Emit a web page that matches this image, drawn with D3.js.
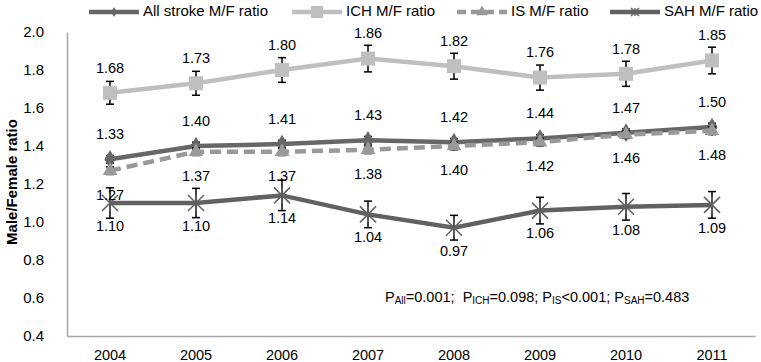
<!DOCTYPE html>
<html><head><meta charset="utf-8">
<script src="https://cdn.jsdelivr.net/npm/d3@7"></script>
<style>body{margin:0;background:#fff}svg{display:block;font-family:"Liberation Sans",Arial,sans-serif}</style>
</head><body><svg id="c" width="761" height="362"></svg>
<script>
const years = ["2004","2005","2006","2007","2008","2009","2010","2011"];
const allStroke = [1.33,1.40,1.41,1.43,1.42,1.44,1.47,1.50];
const allErr    = [0.02,0.02,0.02,0.02,0.02,0.02,0.02,0.02];
const ich       = [1.68,1.73,1.80,1.86,1.82,1.76,1.78,1.85];
const ichErr    = [0.06,0.063,0.065,0.07,0.068,0.066,0.066,0.07];
const is        = [1.27,1.37,1.37,1.38,1.40,1.42,1.46,1.48];
const isErr     = [0.02,0.02,0.02,0.02,0.02,0.02,0.02,0.02];
const sah       = [1.10,1.10,1.14,1.04,0.97,1.06,1.08,1.09];
const sahErr    = [0.08,0.077,0.08,0.07,0.065,0.07,0.07,0.07];
const yTicks    = [0.4,0.6,0.8,1.0,1.2,1.4,1.6,1.8,2.0];
const seriesNames = ["All stroke M/F ratio","ICH M/F ratio","IS M/F ratio","SAH M/F ratio"];

const svg = d3.select("#c");
const x = d3.scaleBand().domain(years).range([67,755]);
const y = d3.scaleLinear().domain([0.4,2.0]).range([336,32]);
const cx = d => x(d)+x.bandwidth()/2;

// axes
const yAxis = d3.axisLeft(y).tickValues(yTicks).tickFormat(d3.format(".1f")).tickSize(0).tickPadding(23);
const gy = svg.append("g").attr("transform","translate(67,0)").call(yAxis);
gy.select(".domain").attr("stroke","#a6a6a6").attr("stroke-width",1.5);
gy.selectAll("text").attr("font-size",15).attr("fill","#000").attr("font-family","'Liberation Sans',Arial,sans-serif");
const xAxis = d3.axisBottom(x).tickSize(0).tickPadding(14);
const gx = svg.append("g").attr("transform","translate(0,336)").call(xAxis);
gx.select(".domain").attr("stroke","#a6a6a6").attr("stroke-width",1.5);
gx.selectAll("text").attr("font-size",14.5).attr("fill","#000").attr("font-family","'Liberation Sans',Arial,sans-serif");

svg.append("text").attr("transform","translate(13,182) rotate(-90)").attr("text-anchor","middle")
  .attr("dominant-baseline","middle").attr("font-weight","bold").attr("font-size",15).text("Male/Female ratio");

const series = [
  {name:seriesNames[0], v:allStroke, e:allErr, color:"#676767", dash:null, marker:"diamond", lab:-24},
  {name:seriesNames[1], v:ich, e:ichErr, color:"#bfbfbf", dash:null, marker:"square", lab:-24},
  {name:seriesNames[2], v:is, e:isErr, color:"#999999", dash:"11,6", marker:"triangle", lab:25},
  {name:seriesNames[3], v:sah, e:sahErr, color:"#616161", dash:null, marker:"star", lab:24}
];

const line = d3.line().x(d=>cx(d.year)).y(d=>y(d.val));

function marker(g, type, color, px, py, s){
  if(type==="square"){
    g.append("rect").attr("x",px-s/2).attr("y",py-s/2).attr("width",s).attr("height",s).attr("fill",color);
  } else if(type==="diamond"){
    g.append("path").attr("d",d3.symbol().type(d3.symbolDiamond).size(s*s*0.6)()).attr("transform",`translate(${px},${py})`).attr("fill",color);
    g.append("path").attr("d",d3.symbol().type(d3.symbolCross).size(s*s*0.35)()).attr("transform",`translate(${px},${py})`).attr("fill",color);
  } else if(type==="triangle"){
    g.append("path").attr("d",d3.symbol().type(d3.symbolTriangle).size(s*s*0.55)()).attr("transform",`translate(${px},${py})`).attr("fill",color);
  } else if(type==="star"){
    const r=s/2;
    g.append("path").attr("d",`M${px-r},${py-r}L${px+r},${py+r}M${px-r},${py+r}L${px+r},${py-r}M${px},${py-r}L${px},${py+r}`)
      .attr("stroke",color).attr("stroke-width",1.5).attr("fill","none");
  }
}

series.forEach(s=>{
  const data = years.map((yr,i)=>({year:yr,val:s.v[i],err:s.e[i]}));
  const g = svg.append("g");
  g.append("path").datum(data).attr("d",line).attr("fill","none").attr("stroke",s.color)
    .attr("stroke-width",4.5).attr("stroke-dasharray",s.dash);
  const eb = g.append("g").attr("stroke","#000").attr("stroke-width",1.5);
  data.forEach(d=>{
    const px=cx(d.year), t=y(d.val+d.err), b=y(d.val-d.err);
    eb.append("line").attr("x1",px).attr("x2",px).attr("y1",t).attr("y2",b);
    eb.append("line").attr("x1",px-4).attr("x2",px+4).attr("y1",t).attr("y2",t);
    eb.append("line").attr("x1",px-4).attr("x2",px+4).attr("y1",b).attr("y2",b);
  });
  const size = s.marker==="square"?14:(s.marker==="star"?16:13);
  data.forEach(d=>marker(g,s.marker,s.color,cx(d.year),y(d.val),size));
  s.data=data;
});
// labels
series.forEach(s=>{
  svg.append("g").selectAll("text").data(s.data).join("text")
    .attr("x",d=>cx(d.year)).attr("y",d=>y(d.val)+s.lab).attr("text-anchor","middle")
    .attr("dominant-baseline","middle").attr("font-size",14.5).attr("fill","#000")
    .text(d=>d3.format(".2f")(d.val));
});

// legend
const legX = [89,292,457,610];
const leg = svg.append("g");
series.forEach((s,i)=>{
  const x0=legX[i], x1=x0+50, ly=12;
  leg.append("line").attr("x1",x0).attr("x2",x1).attr("y1",ly).attr("y2",ly).attr("stroke",s.color)
    .attr("stroke-width",4.5).attr("stroke-dasharray",s.dash?"9,5":null);
  const sz = s.marker==="square"?12:(s.marker==="star"?8:(s.marker==="diamond"?7:10));
  marker(leg,s.marker,s.color,(x0+x1)/2,ly,sz);
  leg.append("text").attr("x",x1+4).attr("y",ly).attr("dominant-baseline","middle").attr("font-size",15).text(s.name);
});

// p-value annotation
const pt = svg.append("text").attr("x",385).attr("y",298).attr("font-size",14.5).attr("dominant-baseline","middle");
const parts = [["P","All","=0.001;  "],["P","ICH","=0.098; "],["P","IS","<0.001; "],["P","SAH","=0.483"]];
parts.forEach(p=>{
  pt.append("tspan").text(p[0]);
  pt.append("tspan").attr("font-size",10).attr("dy",3).text(p[1]);
  pt.append("tspan").attr("dy",-3).style("white-space","pre").text(p[2]);
});
</script></body></html>
